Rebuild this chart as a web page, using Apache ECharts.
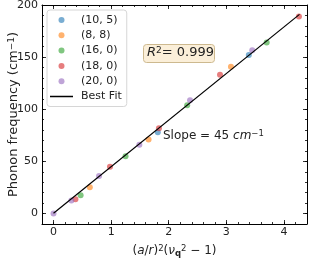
<!DOCTYPE html>
<html><head><meta charset="utf-8">
<script src="https://cdn.jsdelivr.net/npm/echarts@6/dist/echarts.min.js"></script>
<style>html,body{margin:0;padding:0;background:#fff}#c{width:318px;height:259px}</style>
</head><body><div id="c"></div>
<script>
const groupNames = ['(10, 5)', '(8, 8)', '(16, 0)', '(18, 0)', '(20, 0)'];
const groupColors = ['rgba(31,119,180,0.75)', 'rgba(255,127,14,0.75)', 'rgba(44,160,44,0.75)', 'rgba(214,39,40,0.75)', 'rgba(148,103,189,0.75)'];
const pts_10_5 = [[1.81, 78], [3.39, 152]];
const pts_8_8 = [[0.63, 25.3], [1.65, 71], [3.08, 140.7]];
const pts_16_0 = [[0.47, 17.6], [1.25, 55], [2.32, 103.8], [3.70, 164]];
const pts_18_0 = [[0.38, 13.8], [0.98, 45], [1.83, 81.7], [2.89, 133], [4.26, 189]];
const pts_20_0 = [[0, 0], [0.31, 12.5], [0.79, 36], [1.49, 66], [2.37, 108.6], [3.45, 156.5]];
const fitLine = [[0, 0.3], [4.27, 191]];
const xTicks = [0, 1, 2, 3, 4];
const yTicks = [0, 50, 100, 150, 200];
const xMin = -0.2, xMax = 4.4, yMin = -10, yMax = 200;
const xMinorStep = 0.2, yMinorStep = 10;

const xMinor = []; for (let i = 0; xMin + i * xMinorStep <= xMax + 1e-9; i++) xMinor.push(+(xMin + i * xMinorStep).toFixed(4));
const yMinor = []; for (let i = 0; yMin + i * yMinorStep <= yMax + 1e-9; i++) yMinor.push(+(yMin + i * yMinorStep).toFixed(4));

const FONT = 'DejaVu Sans';
const chart = echarts.init(document.getElementById('c'), null, {renderer: 'canvas'});

function mkX(pos, ticks, len, labels, line) {
  return {
    type: 'value', position: pos, min: xMin, max: xMax, gridIndex: 0,
    axisLine: {show: line, onZero: false, lineStyle: {color: '#000', width: 1}},
    axisTick: {show: true, inside: true, length: len, customValues: ticks, lineStyle: {color: '#000', width: 0.8}},
    axisLabel: labels ? {show: true, customValues: ticks, color: '#222', fontSize: 11, fontFamily: FONT, margin: 3} : {show: false},
    splitLine: {show: false}
  };
}
function mkY(pos, ticks, len, labels, line) {
  return {
    type: 'value', position: pos, min: yMin, max: yMax, gridIndex: 0,
    axisLine: {show: line, onZero: false, lineStyle: {color: '#000', width: 1}},
    axisTick: {show: true, inside: true, length: len, customValues: ticks, lineStyle: {color: '#000', width: 0.8}},
    axisLabel: labels ? {show: true, customValues: ticks, color: '#222', fontSize: 11, fontFamily: FONT, margin: 4} : {show: false},
    splitLine: {show: false}
  };
}

const xAxes = [mkX('bottom', xTicks, 4, true, true), mkX('bottom', xMinor, 2, false, false), mkX('top', xTicks, 4, false, true), mkX('top', xMinor, 2, false, false)];
xAxes[0].name = '({it|a}/{it|r}){sup|2}({it|ν}{sub|q}{sup|2} − 1)';
xAxes[0].nameLocation = 'middle';
xAxes[0].nameGap = 20;
xAxes[0].nameMoveOverlap = false;
xAxes[0].nameTextStyle = {fontSize: 12, fontFamily: FONT, color: '#222', rich: {
  it: {fontStyle: 'italic', fontSize: 12, fontFamily: FONT, color: '#222'},
  sup: {fontSize: 8.5, verticalAlign: 'top', padding: [0, 0, 5, 0], fontFamily: FONT, color: '#222'},
  sub: {fontSize: 8.5, fontWeight: 'bold', verticalAlign: 'bottom', padding: [5, 0, 0, 0], fontFamily: FONT, color: '#222'}
}};
const yAxes = [mkY('left', yTicks, 4, true, true), mkY('left', yMinor, 2, false, false), mkY('right', yTicks, 4, false, true), mkY('right', yMinor, 2, false, false)];
yAxes[0].name = 'Phonon frequency (cm{sup|−1})';
yAxes[0].nameLocation = 'middle';
yAxes[0].nameRotate = 90;
yAxes[0].nameGap = 21;
yAxes[0].nameMoveOverlap = false;
yAxes[0].nameTextStyle = {fontSize: 13, fontFamily: FONT, color: '#222', rich: {
  sup: {fontSize: 9, verticalAlign: 'top', padding: [0, 0, 5, 0], fontFamily: FONT, color: '#222'}
}};

const groups = [pts_10_5, pts_8_8, pts_16_0, pts_18_0, pts_20_0];
const series = groups.map((d, i) => ({
  name: groupNames[i], type: 'scatter', data: d, symbol: 'circle', symbolSize: 6,
  itemStyle: {color: groupColors[i]}, z: 3
}));
series.push({
  name: 'Best Fit', type: 'line', data: fitLine, symbol: 'none', showSymbol: false,
  lineStyle: {color: '#000', width: 1.2}, itemStyle: {color: '#000'}, z: 4, silent: true
});

chart.setOption({
  animation: false,
  grid: {left: 42, right: 11, top: 5, bottom: 35, containLabel: false, outerBoundsMode: 'none'},
  xAxis: xAxes, yAxis: yAxes,
  legend: {
    orient: 'vertical', left: 47, top: 10, padding: [4, 5, 4, 3],
    itemWidth: 23, itemHeight: 6, itemGap: 3.3,
    backgroundColor: 'rgba(255,255,255,0.8)', borderColor: '#d6d6d6', borderWidth: 1, borderRadius: 3,
    textStyle: {fontSize: 11, fontFamily: '"DejaVu Sans"', color: '#222', padding: [0, 0, 0, 3], lineHeight: 12},
    data: groupNames.map(n => ({name: n, icon: 'circle'})).concat([{name: 'Best Fit', icon: 'path://M0,0 L0.01,0 M0,2.3 L23,2.3 L23,3.7 L0,3.7 Z M22.99,6 L23,6', itemStyle: {color: '#000'}}])
  },
  series: series,
  graphic: [
    {type: 'rect', left: 143, top: 44, shape: {width: 71, height: 18, r: 3},
     style: {fill: '#fbefd9', stroke: '#cdb98f', lineWidth: 1}, z: 10},
    {type: 'text', left: 147, top: 46, z: 11,
     style: {text: '{it|R}{sup|2}= 0.999', font: '13px "DejaVu Sans"', fill: '#222',
       rich: {it: {fontStyle: 'italic', fontSize: 13, fontFamily: FONT}, sup: {fontSize: 9, verticalAlign: 'top', padding: [0, 0, 5, 0], fontFamily: FONT}}}},
    {type: 'text', left: 163, top: 129, z: 11,
     style: {text: 'Slope = 45 {it|cm}{sup|−1}', font: '12px "DejaVu Sans"', fill: '#222',
       rich: {it: {fontStyle: 'italic', fontSize: 12, fontFamily: FONT}, sup: {fontSize: 8.5, verticalAlign: 'top', padding: [0, 0, 5, 0], fontFamily: FONT}}}}
  ]
});
</script></body></html>
